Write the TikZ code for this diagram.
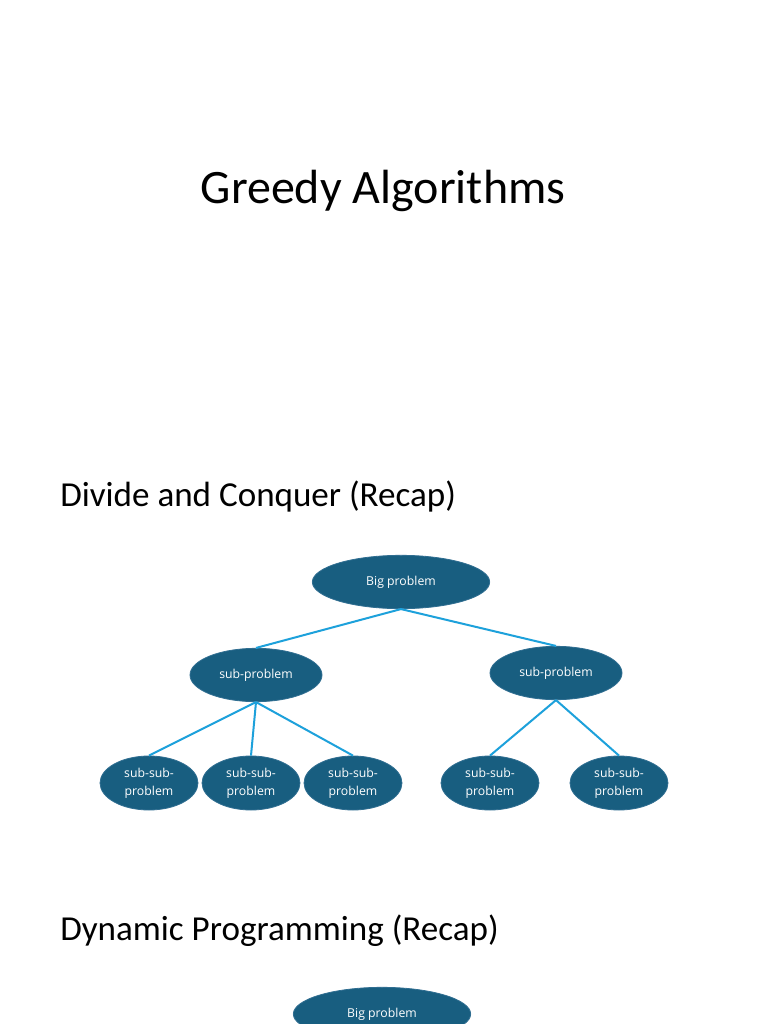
\documentclass[tikz,border=0pt]{standalone}
\usepackage{fontspec}
\setmainfont{Carlito}
\newfontfamily\nodefont{Open Sans}
\usetikzlibrary{shapes.geometric}
\definecolor{nodeblue}{RGB}{24,94,128}
\definecolor{nodeedge}{RGB}{48,110,145}
\definecolor{linkblue}{RGB}{29,161,219}
\begin{document}
\begin{tikzpicture}[x=0.75pt,y=-0.75pt,
  prob/.style={ellipse,fill=nodeblue,draw=nodeedge,line width=0.6pt,inner sep=0pt,
    text=white,font=\nodefont\fontsize{9.2}{13.5}\selectfont,align=center},
  big/.style={prob,minimum width=133pt,minimum height=40pt},
  sub/.style={prob,minimum width=99pt,minimum height=40pt},
  leaf/.style={prob,minimum width=73.5pt,minimum height=40.5pt},
  link/.style={draw=linkblue,line width=1.5pt}]
\useasboundingbox (0,0) rectangle (768,1024);
\fill[white] (0,0) rectangle (768,1024);
\clip (0,0) rectangle (768,1024);

% headings
\node[anchor=base,inner sep=0pt,font=\fontsize{36}{42}\selectfont] (title) at (383,203) {Greedy Algorithms};
\node[anchor=base west,inner sep=0pt,font=\fontsize{26.3}{32}\selectfont] (dnc) at (60,506) {Divide and Conquer (Recap)};
\node[anchor=base west,inner sep=0pt,font=\fontsize{26.3}{32}\selectfont] (dp) at (60,940) {Dynamic Programming (Recap)};

% divide and conquer tree
\node[big] (big) at (401,582) {Big problem};
\node[sub] (subL) at (256,675) {sub-problem};
\node[sub] (subR) at (556,673) {sub-problem};
\node[leaf] (leafA) at (149,783) {sub-sub-\\problem};
\node[leaf] (leafB) at (251,783) {sub-sub-\\problem};
\node[leaf] (leafC) at (353,783) {sub-sub-\\problem};
\node[leaf] (leafD) at (490,783) {sub-sub-\\problem};
\node[leaf] (leafE) at (619,783) {sub-sub-\\problem};

\draw[link] (big.south) -- (subL.north);
\draw[link] (big.south) -- (subR.north);
\foreach \n in {leafA,leafB,leafC}
  \draw[link] (subL.south) -- (\n.north);
\foreach \n in {leafD,leafE}
  \draw[link] (subR.south) -- (\n.north);

% dynamic programming
\node[big] (bigdp) at (382,1014) {Big problem};
\end{tikzpicture}
\end{document}
